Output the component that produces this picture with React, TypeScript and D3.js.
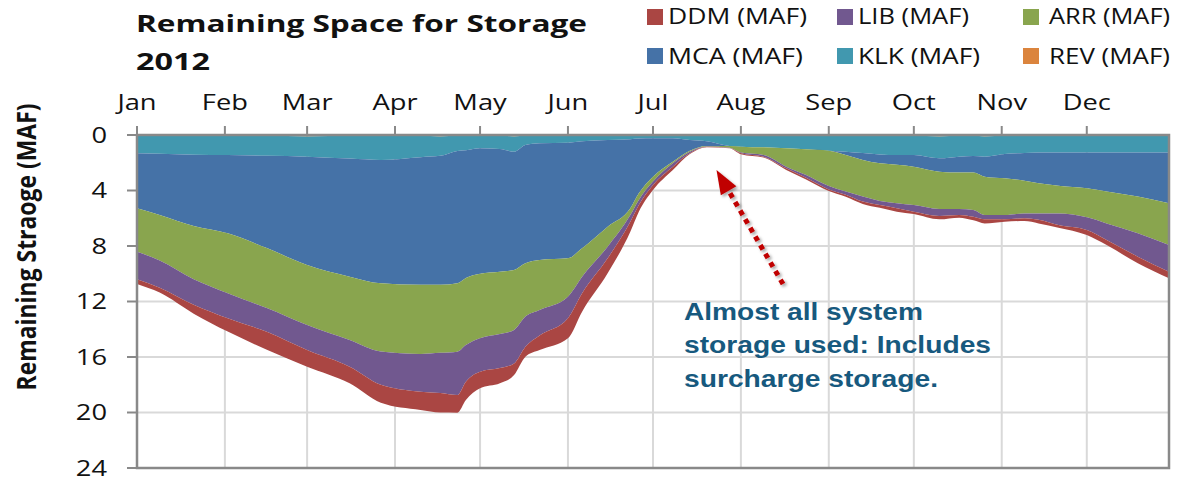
import React from "react";
import * as d3 from "d3";

const dates = [
  "2012-01-01", "2012-01-09", "2012-01-21", "2012-02-02", "2012-02-16", "2012-03-01", "2012-03-16",
  "2012-03-27", "2012-04-10", "2012-04-17", "2012-04-23", "2012-04-26", "2012-05-01", "2012-05-08",
  "2012-05-13", "2012-05-17", "2012-05-22", "2012-06-01", "2012-06-06", "2012-06-15", "2012-06-23",
  "2012-06-26", "2012-07-01", "2012-07-08", "2012-07-14", "2012-07-20", "2012-07-28", "2012-08-01",
  "2012-08-09", "2012-08-17", "2012-08-24", "2012-09-01", "2012-09-07", "2012-09-13", "2012-09-19",
  "2012-09-25", "2012-10-01", "2012-10-10", "2012-10-17", "2012-10-22", "2012-10-26", "2012-11-02",
  "2012-11-09", "2012-11-14", "2012-11-21", "2012-12-01", "2012-12-08", "2012-12-19", "2012-12-30",
];

const REV = [
  0.04, 0.04, 0.04, 0.04, 0.04, 0.10, 0.04, 0.04, 0.04, 0.10, 0.04, 0.04, 0.04, 0.04, 0.10, 0.04, 0.04,
  0.04, 0.04, 0.04, 0.04, 0.04, 0.04, 0.04, 0.04, 0.04, 0.04, 0.04, 0.04, 0.04, 0.04, 0.04, 0.04, 0.04,
  0.04, 0.04, 0.04, 0.10, 0.04, 0.04, 0.10, 0.04, 0.04, 0.04, 0.04, 0.04, 0.04, 0.04, 0.04,
];
const KLK = [
  1.28, 1.31, 1.38, 1.40, 1.46, 1.46, 1.66, 1.76, 1.56, 1.40, 1.11, 1.06, 0.92, 0.96, 1.10, 0.68, 0.56,
  0.51, 0.41, 0.32, 0.26, 0.22, 0.20, 0.20, 0.32, 0.41, 0.75, 0.80, 0.85, 0.92, 0.99, 1.09, 1.16, 1.26,
  1.36, 1.40, 1.40, 1.58, 1.52, 1.47, 1.46, 1.33, 1.26, 1.23, 1.23, 1.23, 1.23, 1.23, 1.23,
];
const MCA = [
  3.96, 4.42, 5.14, 5.65, 6.67, 7.81, 8.51, 8.89, 9.20, 9.30, 9.54, 9.20, 9.04, 8.85, 8.53, 8.53, 8.41,
  8.34, 7.72, 6.25, 4.98, 3.94, 2.76, 1.68, 0.77, 0.34, 0, 0, 0, 0, 0, 0, 0.24, 0.50,
  0.64, 0.71, 0.84, 0.96, 1.15, 1.19, 1.44, 1.75, 2.00, 2.21, 2.38, 2.57, 2.81, 3.17, 3.65,
];
const ARR = [
  3.13, 3.28, 3.84, 4.32, 4.32, 4.32, 4.56, 4.91, 4.98, 4.90, 4.93, 4.84, 4.65, 4.50, 4.32, 3.84, 3.60,
  2.76, 2.04, 1.44, 0.49, 0.48, 0.36, 0.12, 0.07, 0.03, 0.13, 0.43, 0.55, 1.32, 1.85, 2.55, 2.64, 2.64,
  2.71, 2.77, 2.77, 2.69, 2.62, 2.71, 2.77, 2.65, 2.35, 2.17, 2.00, 2.09, 2.29, 2.65, 3.01,
];
const LIB = [
  1.99, 1.95, 1.83, 1.80, 1.71, 1.81, 1.93, 2.40, 2.72, 2.90, 3.12, 2.64, 2.41, 2.45, 2.41, 2.17, 1.84,
  1.56, 1.20, 0.84, 0.48, 0.37, 0.24, 0.24, 0.12, 0.03, 0.02, 0.05, 0.12, 0.12, 0.20, 0.24, 0.22, 0.36,
  0.30, 0.36, 0.48, 0.51, 0.44, 0.49, 0.31, 0.31, 0.35, 0.45, 0.84, 0.92, 1.20, 1.68, 1.92,
];
const DDM = [
  0.34, 0.36, 0.65, 0.96, 1.30, 1.20, 1.20, 1.30, 1.32, 1.40, 1.27, 1.32, 1.20, 1.10, 0.84, 0.72, 1.05,
  1.44, 1.32, 1.08, 0.72, 0.48, 0.36, 0.24, 0.05, 0.03, 0.02, 0.07, 0.07, 0.12, 0.12, 0.12, 0.15, 0.17,
  0.20, 0.25, 0.17, 0.24, 0.19, 0.25, 0.29, 0.17, 0.20, 0.27, 0.19, 0.36, 0.36, 0.48, 0.48,
];

const stackKeys = ["REV", "KLK", "MCA", "ARR", "LIB", "DDM"];
const seriesColors: Record<string, string> = {
  DDM: "#AA4643",
  LIB: "#71588F",
  ARR: "#89A54E",
  MCA: "#4572A7",
  KLK: "#4198AF",
  REV: "#DB843D",
};
const legendKeys = [
  ["DDM", "LIB", "ARR"],
  ["MCA", "KLK", "REV"],
];
const legendLabels: Record<string, string> = {
  DDM: "DDM (MAF)",
  LIB: "LIB (MAF)",
  ARR: "ARR (MAF)",
  MCA: "MCA (MAF)",
  KLK: "KLK (MAF)",
  REV: "REV (MAF)",
};
const legendTextWidths: Record<string, number> = {
  DDM: 139, LIB: 111, ARR: 121, MCA: 135, KLK: 122, REV: 121,
};
const monthLabels = ["Jan", "Feb", "Mar", "Apr", "May", "Jun", "Jul", "Aug", "Sep", "Oct", "Nov", "Dec"];
const yTicks = [0, 4, 8, 12, 16, 20, 24];
const titleLines = ["Remaining Space for Storage", "2012"];
const yAxisTitle = "Remaining Straoge (MAF)";
const noteLines = ["Almost all system", "storage used: Includes", "surcharge storage."];

const W = 1179;
const H = 482;
const PL = 137, PR = 1169, PT = 135, PB = 468;
const FONT = "'Open Sans', 'DejaVu Sans', sans-serif";
const AXIS = "#898989";
const GRID = "#d9d9d9";

export default function App() {
  const parse = d3.timeParse("%Y-%m-%d");
  const rows = dates.map((d, i) => ({
    date: parse(d) as Date,
    REV: REV[i], KLK: KLK[i], MCA: MCA[i], ARR: ARR[i], LIB: LIB[i], DDM: DDM[i],
  }));
  const x = d3.scaleTime().domain([new Date(2012, 0, 1), new Date(2012, 11, 30)]).range([PL, PR]);
  const y = d3.scaleLinear().domain([0, 24]).range([PT, PB]);
  const stacked = d3.stack<any>().keys(stackKeys)(rows);
  const area = d3
    .area<any>()
    .x((d) => x(d.data.date))
    .y0((d) => y(d[0]))
    .y1((d) => y(d[1]))
    .curve(d3.curveMonotoneX);
  const months = d3.timeMonth.range(new Date(2012, 0, 1), new Date(2012, 11, 31));

  // annotation arrow
  const tip: [number, number] = [716.5, 170];
  const tail: [number, number] = [783, 284];
  const dx = tip[0] - tail[0], dy = tip[1] - tail[1];
  const len = Math.hypot(dx, dy);
  const ux = dx / len, uy = dy / len;
  const headL = 24, headW = 9;
  const bx = tip[0] - headL * ux, by = tip[1] - headL * uy;
  const nx = -uy, ny = ux;
  const head = `M${tip[0]},${tip[1]} L${bx + headW * nx},${by + headW * ny} L${bx - headW * nx},${by - headW * ny} Z`;

  return (
    <svg
      width={W}
      height={H}
      style={{ position: "absolute", left: 0, top: 0, background: "#fff" }}
      fontFamily={FONT}
    >
      <defs>
        <filter id="sh" x="-20%" y="-20%" width="140%" height="140%">
          <feDropShadow dx="2" dy="2" stdDeviation="1.5" floodColor="#000" floodOpacity="0.35" />
        </filter>
      </defs>
      <rect x={0} y={0} width={W} height={H} fill="#fff" />

      {/* title */}
      <text x={136} y={31.5} fontSize={23} fontWeight={700} fill="#111" textLength={451} lengthAdjust="spacingAndGlyphs">
        {titleLines[0]}
      </text>
      <text x={136} y={70} fontSize={23} fontWeight={700} fill="#111" textLength={74} lengthAdjust="spacingAndGlyphs">
        {titleLines[1]}
      </text>

      {/* legend */}
      {legendKeys.map((row, ri) =>
        row.map((k, ci) => {
          const sqX = [647, 837, 1023][ci];
          const txX = [668, 858, 1049][ci];
          const sqY = ri === 0 ? 9 : 48;
          const base = ri === 0 ? 23.5 : 63.5;
          return (
            <g key={k}>
              <rect x={sqX} y={sqY} width={16} height={16} fill={seriesColors[k]} />
              <text x={txX} y={base} fontSize={21} fill="#111" textLength={legendTextWidths[k]} lengthAdjust="spacingAndGlyphs">
                {legendLabels[k]}
              </text>
            </g>
          );
        })
      )}

      {/* gridlines */}
      {yTicks.filter((t) => t > 0 && t < 24).map((t) => (
        <line key={"gy" + t} x1={PL} x2={PR} y1={y(t)} y2={y(t)} stroke={GRID} strokeWidth={2} />
      ))}
      {months.slice(1).map((m, i) => (
        <line key={"gx" + i} x1={x(m)} x2={x(m)} y1={PT} y2={PB} stroke={GRID} strokeWidth={2} />
      ))}

      {/* areas */}
      {stacked.map((s) => (
        <path key={s.key} d={area(s as any) || ""} fill={seriesColors[s.key]} />
      ))}

      {/* frame */}
      <rect x={PL} y={PT} width={PR - PL} height={PB - PT} fill="none" stroke={AXIS} strokeWidth={2.5} />

      {/* y ticks */}
      {yTicks.map((t) => (
        <g key={"yt" + t}>
          <line x1={PL - 10} x2={PL} y1={y(t)} y2={y(t)} stroke={AXIS} strokeWidth={2} />
          <text
            transform={`translate(107,${y(t) + 7.5}) scale(1.3,1)`}
            textAnchor="end"
            fontSize={21}
            fill="#111"
          >
            {t}
          </text>
        </g>
      ))}

      {/* x ticks */}
      {months.map((m, i) => (
        <g key={"xt" + i}>
          <line x1={x(m)} x2={x(m)} y1={PT - 9} y2={PT} stroke={AXIS} strokeWidth={2} />
          <text
            transform={`translate(${x(m)},110) scale(1.3,1)`}
            textAnchor="middle"
            fontSize={21}
            fill="#111"
          >
            {monthLabels[i]}
          </text>
        </g>
      ))}

      {/* y axis title */}
      <text
        transform={`translate(36,247) scale(1.25,1) rotate(-90)`}
        textAnchor="middle"
        fontSize={21}
        fontWeight={700}
        fill="#111"
        textLength={287}
        lengthAdjust="spacingAndGlyphs"
      >
        {yAxisTitle}
      </text>

      {/* annotation */}
      <g filter="url(#sh)">
        <line x1={tail[0]} y1={tail[1]} x2={bx} y2={by} stroke="#C00000" strokeWidth={5} strokeDasharray="5,5" />
        <path d={head} fill="#C00000" />
      </g>
      {noteLines.map((t, i) => (
        <text
          key={i}
          x={684}
          y={320 + i * 33.3}
          fontFamily="'Liberation Sans', Arial, sans-serif"
          fontWeight={700}
          fontSize={24}
          fill="#17597E"
          textLength={[239, 307, 254][i]}
          lengthAdjust="spacingAndGlyphs"
        >
          {t}
        </text>
      ))}
    </svg>
  );
}
